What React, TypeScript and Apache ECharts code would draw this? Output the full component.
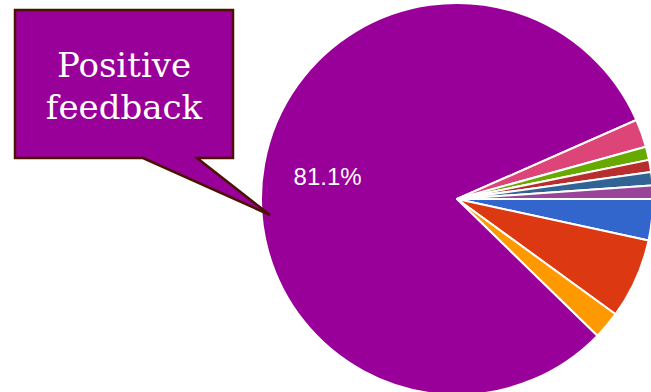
import React, { useEffect, useRef } from "react";
import * as echarts from "echarts";

const categories = ["A", "B", "C", "Positive", "E", "F", "G", "H", "I"];
const values = [3.4, 6.6, 2.3, 81.1, 2.3, 1.1, 1.0, 1.1, 1.1];
const colors = ["#3366cc", "#dc3912", "#ff9900", "#990099", "#dd4477", "#66aa00", "#b82e2e", "#316395", "#994499"];
const calloutLines = ["Positive", "feedback"];

export default function App() {
  const ref = useRef<HTMLDivElement>(null);
  useEffect(() => {
    document.body.style.margin = "0";
    const chart = echarts.init(ref.current!, null, { renderer: "svg" });
    chart.setOption({
      animation: false,
      backgroundColor: "#ffffff",
      series: [
        {
          type: "pie",
          center: [457, 199],
          radius: [0, 196],
          startAngle: 0,
          clockwise: true,
          percentPrecision: 1,
          avoidLabelOverlap: false,
          itemStyle: { borderColor: "#ffffff", borderWidth: 2 },
          labelLine: { show: false },
          data: categories.map((name, i) => ({
            name,
            value: values[i],
            itemStyle: { color: colors[i] },
            label:
              i === 3
                ? {
                    show: true,
                    position: "inside",
                    formatter: (p: any) => `${p.percent.toFixed(1)}%`,
                    color: "#ffffff",
                    fontFamily: "Liberation Sans, Arial, sans-serif",
                    fontSize: 24,
                    offset: [-30, -5],
                  }
                : { show: false },
          })),
        },
      ],
      graphic: [
        {
          type: "polygon",
          z: 100,
          shape: {
            points: [
              [15, 10],
              [233, 10],
              [233, 158],
              [197, 158],
              [270, 215],
              [143, 158],
              [15, 158],
            ],
          },
          style: { fill: "#990099", stroke: "#4a1200", lineWidth: 2.5 },
        },
        {
          type: "text",
          z: 101,
          x: 124,
          y: 86,
          style: {
            text: calloutLines.join("\n"),
            fill: "#ffffff",
            font: "34px 'DejaVu Serif', serif",
            lineHeight: 42,
            align: "center",
            verticalAlign: "middle",
          },
        },
      ],
    });
    return () => chart.dispose();
  }, []);
  return <div ref={ref} style={{ position: "fixed", left: 0, top: 0, width: 651, height: 392 }} />;
}
